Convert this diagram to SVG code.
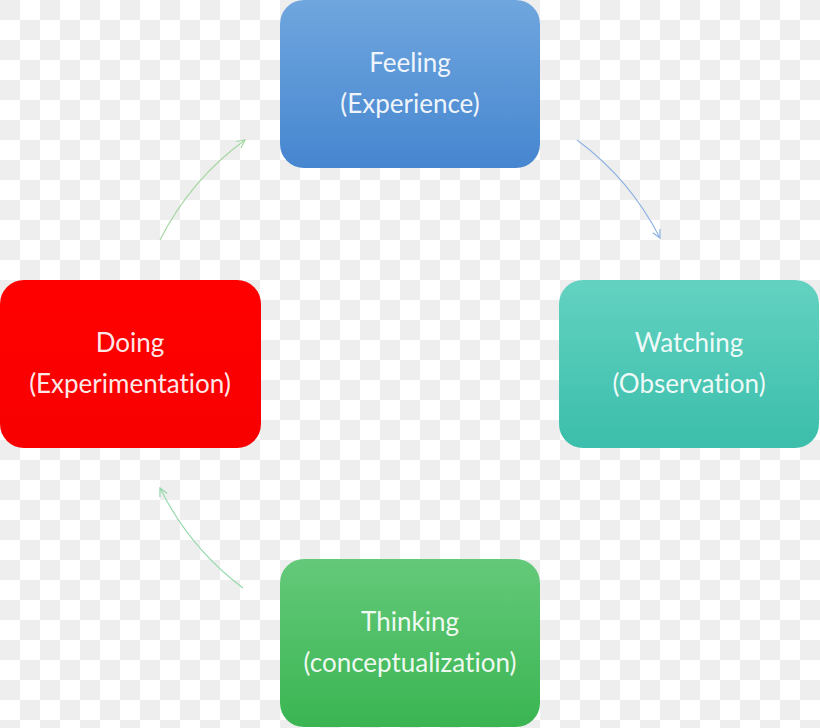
<svg xmlns="http://www.w3.org/2000/svg" width="820" height="728" viewBox="0 0 820 728">
  <defs>
    <pattern id="checker" x="0" y="0" width="40" height="40" patternUnits="userSpaceOnUse">
      <rect width="40" height="40" fill="#ffffff"/>
      <rect x="0" y="0" width="20" height="20" fill="#eeeeee"/>
      <rect x="20" y="20" width="20" height="20" fill="#eeeeee"/>
    </pattern>
    <linearGradient id="gBlue" x1="0" y1="0" x2="0" y2="1">
      <stop offset="0" stop-color="#6fa6de"/>
      <stop offset="1" stop-color="#4686d0"/>
    </linearGradient>
    <linearGradient id="gTeal" x1="0" y1="0" x2="0" y2="1">
      <stop offset="0" stop-color="#63d2c1"/>
      <stop offset="1" stop-color="#3bbeab"/>
    </linearGradient>
    <linearGradient id="gGreen" x1="0" y1="0" x2="0" y2="1">
      <stop offset="0" stop-color="#64c97a"/>
      <stop offset="1" stop-color="#3ab552"/>
    </linearGradient>
    <linearGradient id="gRed" x1="0" y1="0" x2="0" y2="1">
      <stop offset="0" stop-color="#ff0000"/>
      <stop offset="1" stop-color="#f80000"/>
    </linearGradient>
    <marker id="arrBlue" viewBox="0 0 10 10" refX="9" refY="5" markerWidth="10" markerHeight="10" markerUnits="userSpaceOnUse" orient="auto">
      <path d="M1,1 L9,5 L1,9" fill="none" stroke="#8db3e2" stroke-width="1.2"/>
    </marker>
    <marker id="arrGreen" viewBox="0 0 10 10" refX="9" refY="5" markerWidth="10" markerHeight="10" markerUnits="userSpaceOnUse" orient="auto">
      <path d="M1,1 L9,5 L1,9" fill="none" stroke="#a3d69f" stroke-width="1.2"/>
    </marker>
    <marker id="arrMint" viewBox="0 0 10 10" refX="9" refY="5" markerWidth="10" markerHeight="10" markerUnits="userSpaceOnUse" orient="auto">
      <path d="M1,1 L9,5 L1,9" fill="none" stroke="#90d8a8" stroke-width="1.2"/>
    </marker>
  </defs>
  <style>
    .lbl { font-family: "Lato", "Open Sans", "Liberation Sans", sans-serif; font-size: 26px; fill: #ffffff; fill-opacity: 0.93; text-anchor: middle; font-variant-ligatures: none; }
    .conn { fill: none; stroke-width: 1.1; }
  </style>
  <rect width="820" height="728" fill="url(#checker)"/>

  <g id="connectors">
    <path class="conn" d="M577,140 A280,280 0 0 1 660,238" stroke="#8db3e2" marker-end="url(#arrBlue)"/>
    <path class="conn" d="M160,240 A280,280 0 0 1 245,140" stroke="#a3d69f" marker-end="url(#arrGreen)"/>
    <path class="conn" d="M243,588 A280,280 0 0 1 160,488" stroke="#90d8a8" marker-end="url(#arrMint)"/>
  </g>

  <g id="feeling">
    <rect x="280" y="0" width="260" height="168" rx="24" fill="url(#gBlue)"/>
    <text class="lbl" x="410" y="72">Feeling</text>
    <text class="lbl" x="410" y="113">(Experience)</text>
  </g>
  <g id="watching">
    <rect x="559" y="280" width="260" height="168" rx="24" fill="url(#gTeal)"/>
    <text class="lbl" x="689" y="352">Watching</text>
    <text class="lbl" x="689" y="393">(Observation)</text>
  </g>
  <g id="doing">
    <rect x="0" y="280" width="261" height="168" rx="24" fill="url(#gRed)"/>
    <text class="lbl" x="130" y="352">Doing</text>
    <text class="lbl" x="130" y="393">(Experimentation)</text>
  </g>
  <g id="thinking">
    <rect x="280" y="559" width="260" height="168" rx="24" fill="url(#gGreen)"/>
    <text class="lbl" x="410" y="631">Thinking</text>
    <text class="lbl" x="410" y="672">(conceptualization)</text>
  </g>
</svg>
